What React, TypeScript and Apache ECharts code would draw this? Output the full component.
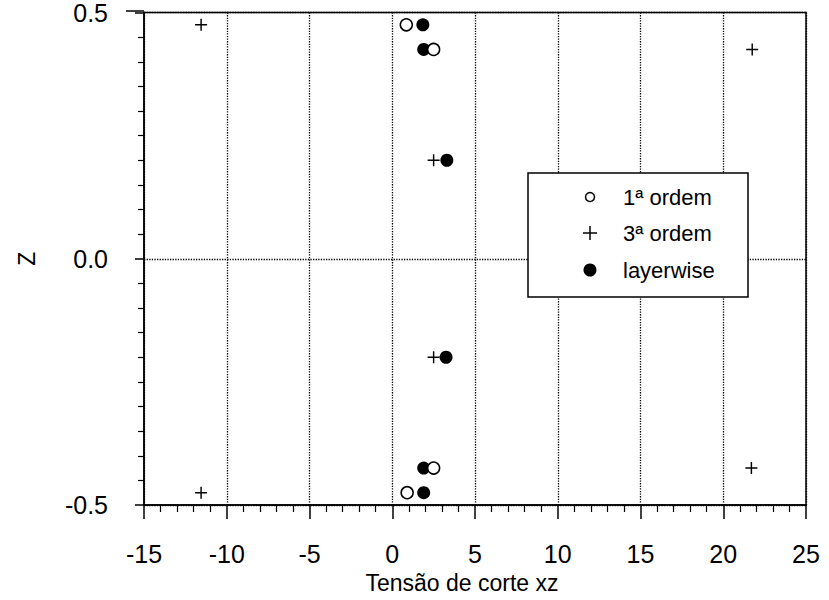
import React, { useEffect, useRef } from "react";
import * as echarts from "echarts";

// Shear stress through the thickness: z position vs. stress for three theories
const xTicksMin = -15;
const xTicksMax = 25;
const xStep = 5;
const zMin = -0.5;
const zMax = 0.5;
const zStep = 0.5;

const zFirst = [0.475, 0.425, -0.425, -0.475];
const tauFirst = [0.85, 2.5, 2.5, 0.9];

const zThird = [0.475, 0.425, 0.2, -0.2, -0.425, -0.475];
const tauThird = [-11.55, 21.75, 2.5, 2.5, 21.7, -11.55];

const zLayer = [0.475, 0.425, 0.2, -0.2, -0.425, -0.475];
const tauLayer = [1.85, 1.9, 3.3, 3.25, 1.9, 1.9];

const legendNames = ["1ª ordem", "3ª ordem", "layerwise"];
const xName = "Tensão de corte xz";
const yName = "Z";

const FONT = "'Liberation Sans', Arial, Helvetica, sans-serif";
const PLUS = "path://M0 8.8H20V11.2H0Z M8.8 0H11.2V20H8.8Z";

const pairs = (xs: number[], ys: number[]) => xs.map((x, i) => [x, ys[i]]);

export default function App() {
  const ref = useRef<HTMLDivElement>(null);

  useEffect(() => {
    if (!ref.current) return;
    const chart = echarts.init(ref.current, undefined, { renderer: "svg" });

    const gridLeft = 144;
    const gridTop = 11;
    const gridW = 662;
    const gridH = 494;

    const lgX = 528;
    const lgY = 173;
    const rows = [197, 233, 270];
    const LZ = 50;

    chart.setOption({
      animation: false,
      backgroundColor: "#fff",
      grid: {
        left: gridLeft,
        top: gridTop,
        width: gridW,
        height: gridH,
        show: true,
        borderColor: "#000",
        borderWidth: 1.5,
        backgroundColor: "transparent",
      },
      xAxis: {
        type: "value",
        min: xTicksMin,
        max: xTicksMax,
        interval: xStep,
        name: xName,
        nameLocation: "middle",
        nameGap: 66,
        nameTextStyle: { fontFamily: FONT, fontSize: 23, color: "#000", padding: [0, 26, 0, 0] },
        axisLine: { show: true, onZero: false, lineStyle: { color: "#000", width: 1.5 } },
        axisTick: { show: true, length: 14, lineStyle: { color: "#000", width: 1.5 } },
        minorTick: { show: true, splitNumber: 5, length: 7, lineStyle: { color: "#000", width: 1.2 } },
        axisLabel: { fontFamily: FONT, fontSize: 25, color: "#000", margin: 36 },
        splitLine: { show: true, lineStyle: { color: "#000", type: "dotted", width: 1.3 } },
      },
      yAxis: {
        type: "value",
        min: zMin,
        max: zMax,
        interval: zStep,
        name: yName,
        nameLocation: "middle",
        nameGap: 106,
        nameRotate: 90,
        nameTextStyle: { fontFamily: FONT, fontSize: 23, color: "#000" },
        axisLine: { show: true, onZero: false, lineStyle: { color: "#000", width: 1.5 } },
        axisTick: { show: true, length: 9, lineStyle: { color: "#000", width: 1.5 } },
        minorTick: { show: true, splitNumber: 10, length: 6, lineStyle: { color: "#000", width: 1.2 } },
        axisLabel: {
          fontFamily: FONT,
          fontSize: 25,
          color: "#000",
          margin: 36,
          formatter: (v: number) => v.toFixed(1),
        },
        splitLine: { show: true, lineStyle: { color: "#000", type: "dotted", width: 1.3 } },
      },
      series: [
        {
          name: legendNames[2],
          type: "scatter",
          symbol: "circle",
          symbolSize: 13,
          itemStyle: { color: "#000", opacity: 1 },
          data: pairs(tauLayer, zLayer),
          z: 3,
        },
        {
          name: legendNames[1],
          type: "scatter",
          symbol: PLUS,
          symbolSize: 12,
          itemStyle: { color: "#000", opacity: 1 },
          data: pairs(tauThird, zThird),
          z: 4,
        },
        {
          name: legendNames[0],
          type: "scatter",
          symbol: "circle",
          symbolSize: 12,
          itemStyle: { color: "#fff", borderColor: "#000", borderWidth: 1.5, opacity: 1 },
          data: pairs(tauFirst, zFirst),
          z: 5,
        },
      ],
      graphic: [
        // top frame line runs a little past the left axis
        {
          type: "line",
          z: LZ,
          shape: { x1: 126, y1: gridTop, x2: gridLeft, y2: gridTop },
          style: { stroke: "#000", lineWidth: 1.5 },
        },
        {
          type: "rect",
          z: LZ,
          shape: { x: lgX, y: lgY, width: 220, height: 124 },
          style: { fill: "#fff", stroke: "#000", lineWidth: 1.5 },
        },
        {
          type: "circle",
          z: LZ + 1,
          shape: { cx: 590, cy: rows[0], r: 4.5 },
          style: { fill: "#fff", stroke: "#000", lineWidth: 1.5 },
        },
        {
          type: "line",
          z: LZ + 1,
          shape: { x1: 583, y1: rows[1], x2: 597, y2: rows[1] },
          style: { stroke: "#000", lineWidth: 1.5 },
        },
        {
          type: "line",
          z: LZ + 1,
          shape: { x1: 590, y1: rows[1] - 7, x2: 590, y2: rows[1] + 7 },
          style: { stroke: "#000", lineWidth: 1.5 },
        },
        {
          type: "circle",
          z: LZ + 1,
          shape: { cx: 590, cy: rows[2], r: 6.5 },
          style: { fill: "#000" },
        },
        ...legendNames.map((t, i) => ({
          type: "text",
          z: LZ + 1,
          x: 623,
          y: rows[i],
          style: {
            text: t,
            fontFamily: FONT,
            fontSize: 22,
            fill: "#000",
            verticalAlign: "middle",
            align: "left",
          },
        })),
      ],
    });

    return () => chart.dispose();
  }, []);

  return (
    <div
      ref={ref}
      style={{ position: "fixed", left: 0, top: 0, width: 829, height: 600, background: "#fff" }}
    />
  );
}
